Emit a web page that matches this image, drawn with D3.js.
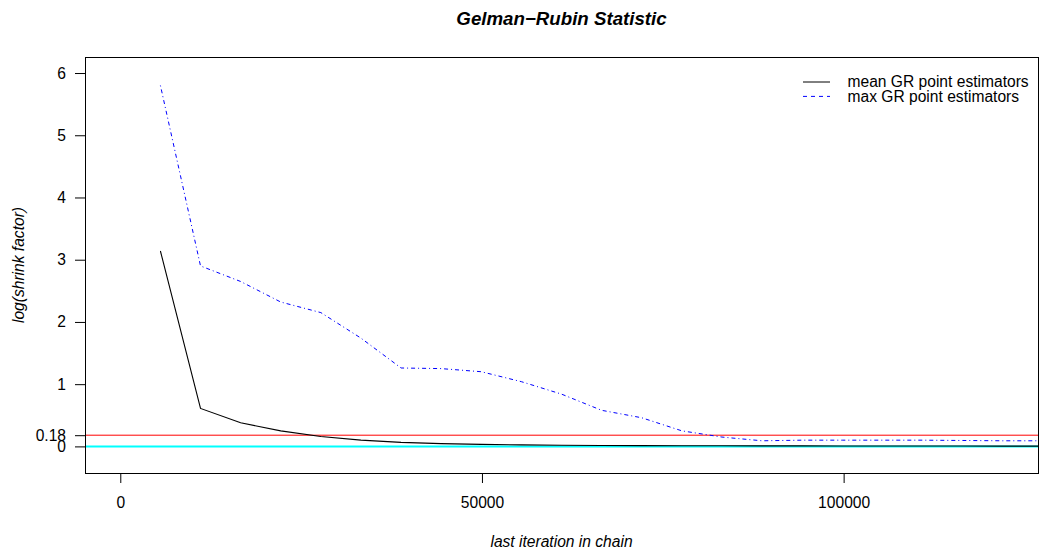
<!DOCTYPE html>
<html>
<head>
<meta charset="utf-8">
<script src="https://cdn.jsdelivr.net/npm/d3@7"></script>
<style>
  body { margin: 0; background: #fff; }
  svg { display: block; font-family: 'Liberation Sans', Arial, Helvetica, sans-serif; }
</style>
</head>
<body>
<svg id="chart"></svg>
<script>
// Chain lengths (x) and Gelman-Rubin point estimates, on log scale
const iterations = [5545, 11090, 16635, 22180, 27725, 33270, 38815, 44360, 49905, 55450, 60995,
  66540, 72085, 77630, 83175, 88720, 94265, 99810, 105355, 110900, 116445, 121990, 127535];
const meanGR = [3.14, 0.61, 0.38, 0.25, 0.16, 0.10, 0.065, 0.045, 0.032, 0.024, 0.018,
  0.015, 0.013, 0.011, 0.010, 0.009, 0.008, 0.007, 0.007, 0.006, 0.006, 0.005, 0.005];
const maxGR = [5.80, 2.90, 2.65, 2.32, 2.15, 1.74, 1.26, 1.25, 1.20, 1.04, 0.84,
  0.58, 0.46, 0.25, 0.15, 0.09, 0.10, 0.10, 0.10, 0.10, 0.095, 0.09, 0.09];

// Axis limits (before R's 4% expansion), tick values and reference lines
const xLim = [0, 121990];
const yLim = [-0.18, 6.01];
const xTicks = [0, 50000, 100000];
const yTicks = [0, 0.18, 1, 2, 3, 4, 5, 6];
const refLines = [{ value: 0.18, color: 'red', width: 1 }, { value: 0, color: 'cyan', width: 2 }];
const legendItems = [
  { label: 'mean GR point estimators', color: '#000', dash: null },
  { label: 'max GR point estimators', color: 'blue', dash: '4,4' }
];

const WIDTH = 1042, HEIGHT = 556;
const plot = { left: 85, right: 1038, top: 57, bottom: 473 };
const FONT = 15.6;

const svg = d3.select('#chart')
  .attr('width', WIDTH)
  .attr('height', HEIGHT);

// R-style 4% axis expansion
const xPad = (xLim[1] - xLim[0]) * 0.04;
const yPad = (yLim[1] - yLim[0]) * 0.04;

const x = d3.scaleLinear()
  .domain([xLim[0] - xPad, xLim[1] + xPad])
  .range([plot.left, plot.right]);

const y = d3.scaleLinear()
  .domain([yLim[0] - yPad, yLim[1] + yPad])
  .range([plot.bottom, plot.top]);

// Clip lines to plot region
svg.append('clipPath').attr('id', 'clip')
  .append('rect')
  .attr('x', plot.left).attr('y', plot.top)
  .attr('width', plot.right - plot.left)
  .attr('height', plot.bottom - plot.top);

const body = svg.append('g').attr('clip-path', 'url(#clip)');

// Horizontal reference lines
body.selectAll('.ref')
  .data(refLines)
  .enter().append('line')
  .attr('class', 'ref')
  .attr('x1', plot.left)
  .attr('x2', plot.right)
  .attr('y1', d => y(d.value))
  .attr('y2', d => y(d.value))
  .attr('stroke', d => d.color)
  .attr('stroke-width', d => d.width);

const line = d3.line()
  .x((d, i) => x(iterations[i]))
  .y(d => y(d));

body.append('path')
  .datum(maxGR)
  .attr('d', line)
  .attr('fill', 'none')
  .attr('stroke', 'blue')
  .attr('stroke-width', 1)
  .attr('stroke-dasharray', '1,3,4,3');

body.append('path')
  .datum(meanGR)
  .attr('d', line)
  .attr('fill', 'none')
  .attr('stroke', '#000')
  .attr('stroke-width', 1.1);

// Axes
const xAxis = svg.append('g')
  .attr('transform', `translate(0,${plot.bottom})`)
  .call(d3.axisBottom(x).tickValues(xTicks).tickFormat(d3.format('d')).tickSize(10).tickPadding(14).tickSizeOuter(0));

const yAxis = svg.append('g')
  .attr('transform', `translate(${plot.left},0)`)
  .call(d3.axisLeft(y).tickValues(yTicks).tickFormat(d => d).tickSize(10).tickPadding(9).tickSizeOuter(0));

[xAxis, yAxis].forEach(g => {
  g.select('.domain').remove();
  g.selectAll('text').attr('font-size', FONT).attr('fill', '#000').attr('font-family', null);
  g.selectAll('line').attr('stroke', '#000');
});

// Box around plot
svg.append('rect')
  .attr('x', plot.left)
  .attr('y', plot.top)
  .attr('width', plot.right - plot.left)
  .attr('height', plot.bottom - plot.top)
  .attr('fill', 'none')
  .attr('stroke', '#000')
  .attr('shape-rendering', 'crispEdges');

// Title and axis labels
svg.append('text')
  .attr('x', (plot.left + plot.right) / 2)
  .attr('y', 25)
  .attr('text-anchor', 'middle')
  .attr('font-size', 18.7)
  .attr('font-weight', 'bold')
  .attr('font-style', 'italic')
  .text('Gelman\u2212Rubin Statistic');

svg.append('text')
  .attr('x', (plot.left + plot.right) / 2)
  .attr('y', 547)
  .attr('text-anchor', 'middle')
  .attr('font-size', FONT)
  .attr('font-style', 'italic')
  .text('last iteration in chain');

svg.append('text')
  .attr('transform', `translate(23.5,${(plot.top + plot.bottom) / 2}) rotate(-90)`)
  .attr('text-anchor', 'middle')
  .attr('font-size', FONT)
  .attr('font-style', 'italic')
  .text('log(shrink factor)');

// Legend, no box
const legend = svg.append('g').attr('id', 'legend');
const legendRow = legend.selectAll('g')
  .data(legendItems)
  .enter().append('g')
  .attr('transform', (d, i) => `translate(803,${82 + i * 14.4})`);

legendRow.append('line')
  .attr('x1', 0).attr('x2', 27)
  .attr('stroke', d => d.color)
  .attr('stroke-width', 1)
  .attr('stroke-dasharray', d => d.dash);

legendRow.append('text')
  .attr('x', 44.5)
  .attr('dy', '0.35em')
  .attr('font-size', FONT)
  .text(d => d.label);
</script>
</body>
</html>
